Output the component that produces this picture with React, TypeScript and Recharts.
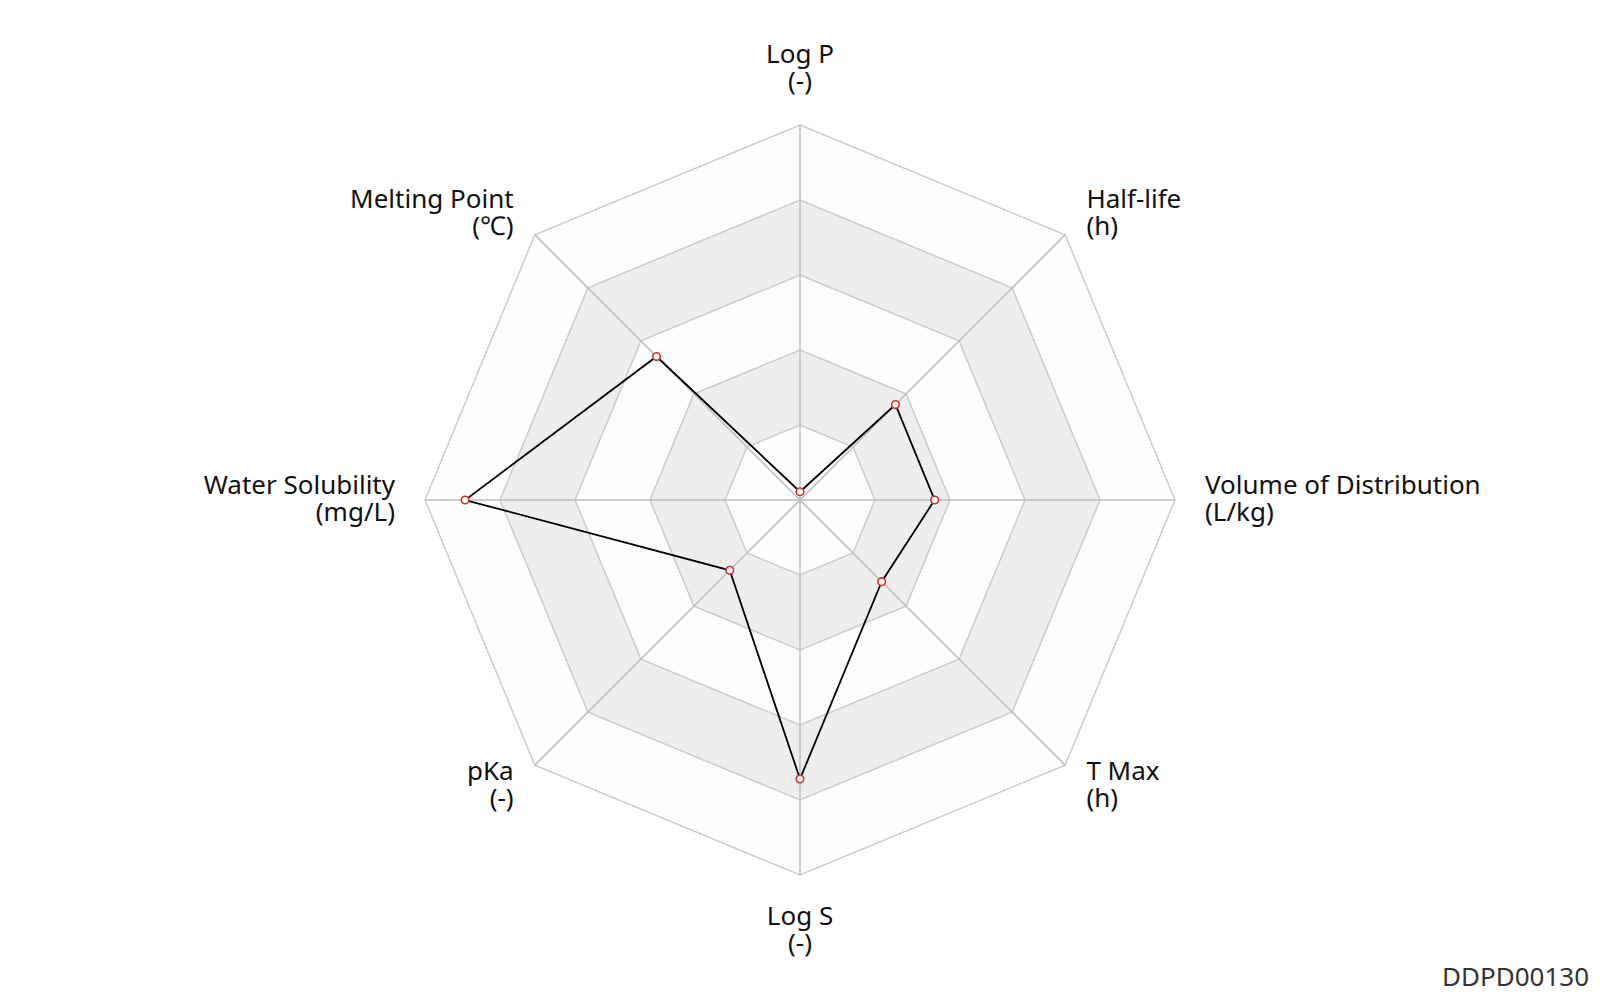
import { RadarChart, Radar, PolarGrid, PolarAngleAxis, PolarRadiusAxis } from 'recharts'

const axes = ['Log P', 'Half-life', 'Volume of Distribution', 'T Max', 'Log S', 'pKa', 'Water Solubility', 'Melting Point']
const units = ['(-)', '(h)', '(L/kg)', '(h)', '(-)', '(-)', '(mg/L)', '(℃)']
const values = [2.2, 36, 35.9, 30.8, 74.4, 26.5, 89.3, 54.1]
const bandLevels = [100, 80, 60, 40, 20]
const bandColors = ['#fdfdfd', '#eeeeee', '#fdfdfd', '#eeeeee', '#fdfdfd']

const CX = 800
const CY = 500
const R = 375

const data = axes.map((name, i) => {
  const row: Record<string, string | number> = { name, unit: units[i], value: values[i] }
  bandLevels.forEach(b => { row['b' + b] = b })
  return row
})

// two-line axis label (name + unit), placed 30px outside the outer ring
function AxisLabel(props: any) {
  const { payload, index } = props
  const ang = (payload.coordinate * Math.PI) / 180
  const c = Math.cos(ang)
  const s = Math.sin(ang)
  const px = CX + (R + 30) * c
  const py = CY - (R + 30) * s
  const anchor = Math.abs(c) < 0.01 ? 'middle' : c > 0 ? 'start' : 'end'
  let y1 = py - 16
  if (s > 0.99) y1 = py - 42
  if (s < -0.99) y1 = py + 10
  return (
    <text x={px} y={y1} textAnchor={anchor} dominantBaseline="central" fontSize={26} fill="#111">
      <tspan x={px} y={y1}>{payload.value}</tspan>
      <tspan x={px} dy={27}>{units[index]}</tspan>
    </text>
  )
}

const layer: React.CSSProperties = { position: 'absolute', left: 0, top: 0 }

export default function App() {
  return (
    <div style={{ position: 'absolute', left: 0, top: 0, width: 1600, height: 1000, background: '#fff', fontFamily: '"Noto Sans", sans-serif' }}>
      {/* background bands + axis labels */}
      <div style={layer}>
        <RadarChart width={1600} height={1000} cx={CX} cy={CY} outerRadius={R} data={data} margin={{ top: 0, right: 0, bottom: 0, left: 0 }}>
          <PolarRadiusAxis domain={[0, 100]} tickCount={6} axisLine={false} tick={false} />
          <PolarAngleAxis dataKey="name" tick={<AxisLabel />} tickLine={false} axisLine={false} />
          {bandLevels.map((b, i) => (
            <Radar key={b} dataKey={'b' + b} stroke="#cccccc" strokeWidth={1.5} fill={bandColors[i]} fillOpacity={1} dot={false} isAnimationActive={false} />
          ))}
        </RadarChart>
      </div>
      {/* radial lines + data on top */}
      <div style={layer}>
        <RadarChart width={1600} height={1000} cx={CX} cy={CY} outerRadius={R} data={data} margin={{ top: 0, right: 0, bottom: 0, left: 0 }}>
          <PolarRadiusAxis domain={[0, 100]} tickCount={6} axisLine={false} tick={false} />
          <PolarAngleAxis dataKey="name" tick={false} tickLine={false} axisLine={false} />
          <PolarGrid gridType="polygon" polarRadius={[]} stroke="#bbbbbb" strokeWidth={1.5} />
          <Radar dataKey="value" stroke="#000" strokeWidth={1.8} fill="none" fillOpacity={0}
            dot={{ r: 3.8, fill: '#fff', stroke: '#d32f2f', strokeWidth: 1.6, fillOpacity: 1 }} isAnimationActive={false} />
        </RadarChart>
      </div>
      <div style={{ position: 'absolute', right: 11, top: 958, fontSize: 26, color: '#333' }}>DDPD00130</div>
    </div>
  )
}
